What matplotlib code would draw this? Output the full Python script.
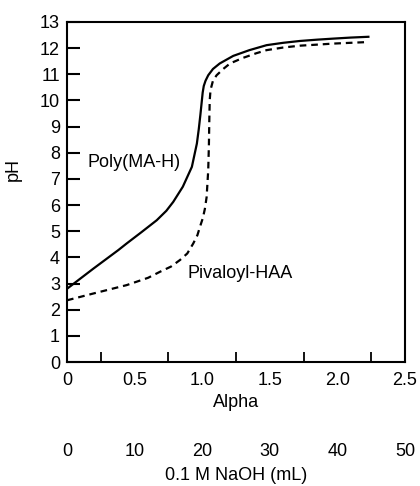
import matplotlib
matplotlib.use("Agg")
import matplotlib.pyplot as plt

plt.rcParams['font.family'] = ['Liberation Sans', 'DejaVu Sans']

# Poly(MA-H) titration curve (solid)
poly_alpha = [0.0, 0.195, 0.38, 0.441, 0.55, 0.664, 0.735, 0.786, 0.857, 0.924, 0.961, 0.975, 0.987, 0.997, 1.004, 1.012, 1.025, 1.045, 1.08, 1.13, 1.23, 1.35, 1.477, 1.60, 1.723, 1.85, 1.97, 2.10, 2.23]
poly_ph = [2.8, 3.57, 4.28, 4.53, 4.96, 5.42, 5.78, 6.12, 6.70, 7.46, 8.35, 8.9, 9.45, 9.95, 10.3, 10.55, 10.75, 10.96, 11.2, 11.41, 11.7, 11.92, 12.11, 12.2, 12.27, 12.32, 12.36, 12.4, 12.43]

# Pivaloyl-HAA titration curve (dashed)
piv_alpha = [0.0, 0.195, 0.441, 0.60, 0.688, 0.77, 0.836, 0.89, 0.934, 0.965, 0.984, 1.005, 1.02, 1.033, 1.045, 1.05, 1.053, 1.056, 1.062, 1.08, 1.107, 1.156, 1.206, 1.30, 1.40, 1.477, 1.60, 1.723, 1.85, 1.97, 2.10, 2.23]
piv_ph = [2.36, 2.62, 2.94, 3.22, 3.45, 3.65, 3.9, 4.15, 4.53, 4.85, 5.17, 5.5, 5.85, 6.3, 7.33, 8.3, 9.24, 10.0, 10.4, 10.75, 10.96, 11.2, 11.41, 11.62, 11.8, 11.92, 12.02, 12.09, 12.13, 12.17, 12.2, 12.23]

alpha_ticks = [0, 0.5, 1.0, 1.5, 2.0, 2.5]
alpha_labels = ['0', '0.5', '1.0', '1.5', '2.0', '2.5']
naoh_ticks = [0, 10, 20, 30, 40, 50]
naoh_labels = ['0', '10', '20', '30', '40', '50']
ph_ticks = list(range(0, 14))

fig = plt.figure(figsize=(4.2, 4.86), dpi=100)
ax = fig.add_axes([0.1595, 0.255, 0.8045, 0.70])

ax.plot(poly_alpha, poly_ph, color='black', lw=1.6, solid_joinstyle='round')
ax.plot(piv_alpha, piv_ph, color='black', lw=1.6, dashes=(3, 2.2))

ax.set_xlim(0, 2.5)
ax.set_ylim(0, 13)
ax.set_yticks(ph_ticks)
ax.set_xticks(alpha_ticks)
ax.set_xticklabels(alpha_labels)
ax.set_xticks([0.25, 0.5, 0.75, 1.0, 1.25, 1.5, 1.75, 2.0, 2.25], minor=True)
ax.tick_params(axis='y', direction='in', length=9, width=1.5, labelsize=13, pad=5)
ax.tick_params(axis='x', which='both', direction='in', length=7, width=1.3, labelsize=13, pad=7)
ax.tick_params(axis='x', which='major', length=0)
for s in ax.spines.values():
    s.set_linewidth(1.5)

ax.set_xlabel('Alpha', fontsize=13, labelpad=4)
ax.set_ylabel('pH', fontsize=13)
ax.yaxis.set_label_coords(-0.133, 0.565)

ax.text(0.15, 7.64, 'Poly(MA-H)', fontsize=13, va='center', ha='left')
ax.text(0.89, 3.4, 'Pivaloyl-HAA', fontsize=13, va='center', ha='left')

ax2 = ax.secondary_xaxis('bottom', functions=(lambda a: a * 20, lambda v: v / 20))
ax2.set_xticks(naoh_ticks)
ax2.set_xticklabels(naoh_labels)
ax2.spines['bottom'].set_visible(False)
ax2.tick_params(axis='x', length=0, labelsize=13, pad=58)
ax2.set_xlabel('0.1 M NaOH (mL)', fontsize=13, labelpad=5.5)

fig.savefig('out.png', dpi=100)
